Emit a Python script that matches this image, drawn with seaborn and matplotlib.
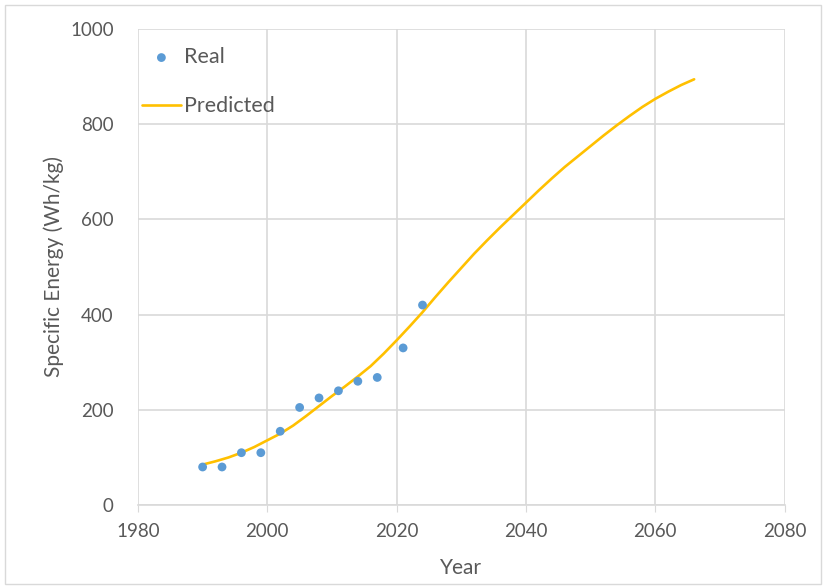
import seaborn as sns
import matplotlib.pyplot as plt
from matplotlib.patches import Rectangle

# measured points
real_years = [1990, 1993, 1996, 1999, 2002, 2005, 2008, 2011, 2014, 2017, 2021, 2024]
real_energy = [80, 80, 110, 110, 155, 205, 225, 240, 260, 268, 330, 420]

# fitted / predicted curve
pred_years = [1990, 1992, 1994, 1996, 1998, 2000, 2002, 2004, 2006, 2008,
              2010, 2012, 2014, 2016, 2018, 2020, 2022, 2024, 2026, 2028,
              2030, 2032, 2034, 2036, 2038, 2040, 2042, 2044, 2046, 2048,
              2050, 2052, 2054, 2056, 2058, 2060, 2062, 2064, 2066]
pred_energy = [85, 92, 100, 110, 122, 136, 150, 167, 187, 208,
               229, 249, 270, 292, 318, 346, 375, 405, 437, 468,
               498, 528, 556, 583, 609, 635, 661, 686, 710, 732,
               754, 776, 797, 817, 836, 853, 868, 882, 894]

sns.set_style('white')
plt.rcParams['font.family'] = ['Lato', 'DejaVu Sans']

fig = plt.figure(figsize=(8.26, 5.88), dpi=100)
ax = fig.add_axes([0.167, 0.141, 0.783, 0.810])

grey = '#595959'
grid = '#d9d9d9'

sns.lineplot(x=pred_years, y=pred_energy, ax=ax, color='#ffc000', linewidth=1.9,
             label='Predicted', zorder=3)
sns.scatterplot(x=real_years, y=real_energy, ax=ax, color='#5b9bd5', s=40,
                edgecolor='none', label='Real', zorder=4)

ax.set_xlim(1980, 2080)
ax.set_ylim(0, 1000)
ax.set_xticks(range(1980, 2081, 20))
ax.set_yticks(range(0, 1001, 200))
ax.grid(True, color=grid, linewidth=1.2)
ax.set_axisbelow(True)

for side in ['top', 'right', 'left']:
    ax.spines[side].set_visible(False)
ax.spines['bottom'].set_color(grid)
ax.spines['bottom'].set_linewidth(1.2)
ax.tick_params(axis='x', bottom=True, length=5, color=grid, labelsize=13.5,
               labelcolor=grey, pad=8)
ax.tick_params(axis='y', left=False, labelsize=13.5, labelcolor=grey, pad=14)

ax.set_xlabel('Year', fontsize=15, color=grey, labelpad=13)
ax.set_ylabel('Specific Energy (Wh/kg)', fontsize=15, color=grey, labelpad=4)

handles, labels = ax.get_legend_handles_labels()
order = [labels.index('Real'), labels.index('Predicted')]
ax.legend([handles[i] for i in order], [labels[i] for i in order],
          loc='upper left', frameon=False, fontsize=15.5, labelcolor=grey,
          handlelength=1.8, handletextpad=0.15, borderaxespad=0.3,
          labelspacing=1.35, bbox_to_anchor=(-0.017, 0.993))

fig.patches.append(Rectangle((0.006, 0.006), 0.988, 0.986, transform=fig.transFigure,
                             fill=False, edgecolor='#d9d9d9', linewidth=1))

fig.savefig('out.png', dpi=100)
